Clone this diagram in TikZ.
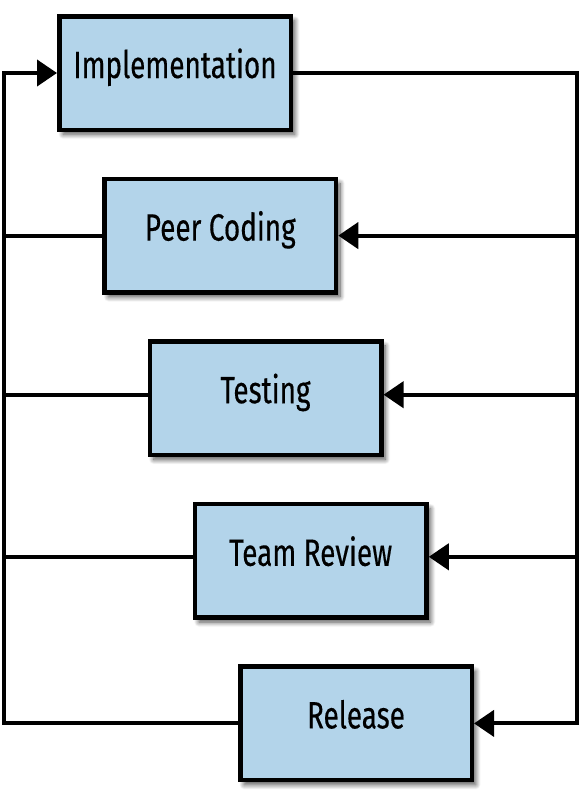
\documentclass[tikz,border=0pt]{standalone}
\usepackage{fontspec}
\setmainfont{Fira Sans}[FakeStretch=0.735,FakeBold=0.35]
\usetikzlibrary{arrows.meta,shadows.blur}
\definecolor{boxblue}{RGB}{179,212,234}
\begin{document}
\begin{tikzpicture}[x=1pt,y=-1pt,
  stagebox/.style={draw=black, line width=4.5pt, fill=boxblue,
    minimum width=231.5pt, minimum height=113.5pt, inner sep=0pt,
    text height=10pt, text depth=0pt,
    font=\fontsize{38}{40}\selectfont,
    blur shadow={shadow xshift=4pt, shadow yshift=-4.5pt, shadow blur steps=10, shadow blur radius=5pt, shadow opacity=70}},
  wire/.style={line width=4pt, line join=miter},
  tip/.style={-{Triangle[length=20pt,width=26pt]}}]
\useasboundingbox (0,0) rectangle (581,812);
\coordinate (lx) at (4,0);
\coordinate (rx) at (577,0);
\node[stagebox] (b1) at (175,73) {Implementation};
\node[stagebox] (b2) at (220.25,235.6) {Peer Coding};
\node[stagebox] (b3) at (265.5,398.2) {Testing};
\node[stagebox] (b4) at (310.75,560.8) {Team Review};
\node[stagebox] (b5) at (356,723.4) {Release};
\draw[wire,tip] (b5.west) -- (b5.west -| lx) |- (b1.west);
\draw[wire] (b2.west) -- (b2.west -| lx);
\draw[wire] ([yshift=3.5pt]b3.west) -- ([yshift=3.5pt]b3.west -| lx);
\draw[wire] ([yshift=4pt]b4.west) -- ([yshift=4pt]b4.west -| lx);
\draw[wire,tip] (b1.east) -- (b1.east -| rx) |- (b5.east);
\draw[wire,tip] (b2.east -| rx) -- (b2.east);
\draw[wire,tip] ([yshift=3.5pt]b3.east -| rx) -- ([yshift=3.5pt]b3.east);
\draw[wire,tip] ([yshift=4pt]b4.east -| rx) -- ([yshift=4pt]b4.east);
\end{tikzpicture}
\end{document}
